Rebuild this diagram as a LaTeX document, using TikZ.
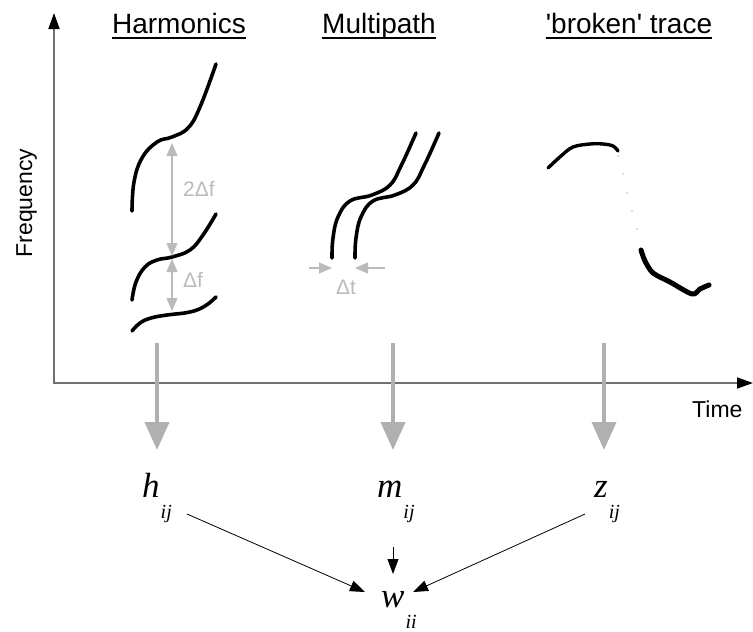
\documentclass[tikz,border=0pt]{standalone}
\usepackage{fontspec}
\setmainfont{Liberation Sans}[Ligatures=TeXOff]
\newfontfamily\lblserif{Liberation Serif}
\usetikzlibrary{arrows.meta}

\definecolor{axisgray}{HTML}{707070}
\definecolor{flowgray}{HTML}{B0B0B0}
\definecolor{dimgray}{HTML}{BBBBBB}

\tikzset{
  trace/.style={line width=3.6pt, line cap=round, line join=round},
  axisline/.style={axisgray, line width=1.8pt, -{Triangle[length=16pt,width=11pt,color=black]}},
  flowarrow/.style={flowgray, line width=4pt, -{Triangle[length=28pt,width=24pt]}},
  dimboth/.style={dimgray, line width=1.3pt, {Triangle[length=13pt,width=11pt]}-{Triangle[length=13pt,width=11pt]}},
  dimhalf/.style={dimgray, line width=1.3pt, -{Triangle[length=13pt,width=11pt]}},
  dimlabel/.style={dimgray, font=\fontsize{21}{21}\selectfont, inner sep=0pt},
  heading/.style={font=\fontsize{28}{30}\selectfont, inner sep=0pt, anchor=base},
  axislabel/.style={font=\fontsize{23}{24}\selectfont, inner sep=0pt},
  varlabel/.style={font=\lblserif\itshape\fontsize{35}{35}\selectfont, inner sep=0pt, anchor=base west},
  link/.style={line width=0.8pt, -{Triangle[length=15pt,width=11pt]}},
}
\newcommand{\subij}[1]{\kern1pt\raisebox{-21pt}{\fontsize{20}{20}\selectfont #1}}

\begin{document}
\begin{tikzpicture}[x=1pt, y=-1pt]
\useasboundingbox (0,0) rectangle (753,632);

% axes
\coordinate (origin) at (54,384);
\coordinate (ytop) at (54,13);
\coordinate (xend) at (753,383);
\draw[axisline] (origin) -- (ytop);
\draw[axisline] (53,383) -- (xend);
\node[axislabel, rotate=90, anchor=base] (freq) at (32,203) {Frequency};
\node[axislabel, anchor=base west] (time) at (692,417) {Time};

% column headings
\node[heading] (hharm) at (179,33) {Harmonics};
\node[heading] (hmult) at (379,33) {Multipath};
\node[heading] (hbrok) at (629,33) {'broken' trace};
\foreach \n in {hharm,hmult,hbrok}
  \draw[line width=1.6pt] ([yshift=-5pt]\n.base west) -- ([yshift=-5pt]\n.base east);

% harmonics traces
\draw[trace] plot[smooth, tension=0.7] coordinates
  {(132,211) (134,182) (142,158) (157,142) (172,137) (188,128) (200,107) (216,64)};
\draw[trace] plot[smooth, tension=0.7] coordinates
  {(132,300) (136,282) (145,267) (157,260) (172,257) (190,250) (203,235) (216,214)};
\draw[trace] plot[smooth, tension=0.7] coordinates
  {(132,331) (140,323) (151,318) (167,315) (190,312) (205,306) (216,297)};

% harmonic spacing
\coordinate (f2top) at (172,143);
\coordinate (f2bot) at (172,256);
\coordinate (f1top) at (172,259);
\coordinate (f1bot) at (172,311);
\draw[dimboth] (f2top) -- (f2bot);
\draw[dimboth] (f1top) -- (f1bot);
\node[dimlabel, anchor=west] (lbl2f) at (183,189) {2Δf};
\node[dimlabel, anchor=west] (lblf) at (183,280) {Δf};

% multipath traces
\foreach \dx in {0,23}
  \draw[trace, xshift=\dx pt] plot[smooth, tension=0.7] coordinates
    {(332,258) (333,238) (338,217) (350,201) (372,195) (390,185) (401,166) (416,133)};

% multipath delay
\coordinate (dtl) at (309,268);
\coordinate (dtla) at (332,268);
\coordinate (dtr) at (385,268);
\coordinate (dtra) at (355,268);
\draw[dimhalf] (dtl) -- (dtla);
\draw[dimhalf] (dtr) -- (dtra);
\node[dimlabel, anchor=center] (lbldt) at (346,287) {Δt};

% broken trace
\draw[trace, line width=3.4pt] plot[smooth, tension=0.6] coordinates
  {(548,168) (561,156) (573,147) (590,144) (603,144) (613,146) (618,151)};
\foreach \p in {(618,156),(623,174),(627,193),(632,211),(637,229)}
  \fill[axisgray] \p circle (0.7pt);
\draw[trace, line width=5pt] plot[smooth, tension=0.5] coordinates
  {(641,250) (645,261) (653,273) (670,282) (692,294) (700,289) (709,285)};

% flow to the weight variables
\coordinate (fh) at (157,343);
\coordinate (fhe) at (157,450);
\coordinate (fm) at (393,343);
\coordinate (fme) at (393,450);
\coordinate (fz) at (604,343);
\coordinate (fze) at (604,450);
\draw[flowarrow] (fh) -- (fhe);
\draw[flowarrow] (fm) -- (fme);
\draw[flowarrow] (fz) -- (fze);

% variables
\node[varlabel] (h) at (142,497) {h\subij{ij}};
\node[varlabel] (m) at (377,497) {m\subij{ij}};
\node[varlabel] (z) at (594,497) {z\subij{ij}};
\node[varlabel] (w) at (381,607) {w\subij{ii}};

\coordinate (hout) at (187,514);
\coordinate (zout) at (585,514);
\coordinate (mout) at (393,547);
\coordinate (win) at (365,592);
\coordinate (wine) at (413,592);
\coordinate (wtop) at (393,574);
\draw[link] (hout) -- (win);
\draw[link] (zout) -- (wine);
\draw[link] (mout) -- (wtop);
\end{tikzpicture}
\end{document}
